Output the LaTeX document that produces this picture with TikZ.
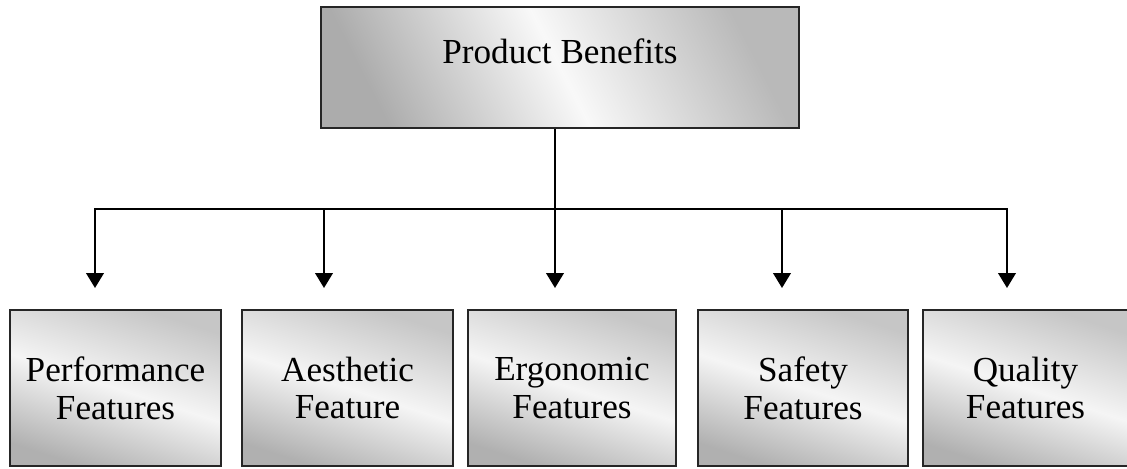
\documentclass[tikz,border=0pt]{standalone}
\usepackage{fontspec}
\setmainfont{Liberation Serif}
\usetikzlibrary{arrows.meta}

\tikzset{
  benefitbox/.style={draw=black!85, line width=1.4pt, rectangle, inner sep=0pt,
    left color=gray!65, right color=gray!55, middle color=white!95!gray, shading angle=117},
  featurebox/.style={draw=black!85, line width=1.4pt, rectangle, inner sep=0pt, align=center,
    top color=gray!45, bottom color=gray!62, middle color=white!92!gray, shading angle=-18,
    minimum height=3.12cm},
}

\begin{document}
\begin{tikzpicture}[x=0.02cm, y=-0.02cm, >={Triangle[width=10pt,length=8.5pt]}, line width=1.1pt,
    font=\fontsize{20}{21.5}\selectfont]
    \useasboundingbox (0,0) rectangle (1127,468);
    \node[benefitbox, minimum width=9.56cm, minimum height=2.42cm, text height=14pt, text depth=19pt]
      (benefits) at (560,67.5) {Product Benefits};
    \node[featurebox, minimum width=4.22cm] (performance) at (115.5,388) {Performance\\Features};
    \node[featurebox, minimum width=4.22cm] (aesthetic) at (347.5,388) {Aesthetic\\Feature};
    \node[featurebox, minimum width=4.16cm] (ergonomic) at (572,388) {Ergonomic\\Features};
    \node[featurebox, minimum width=4.2cm] (safety) at (803,388) {Safety\\Features};
    \node[featurebox, minimum width=4.1cm] (quality) at (1025.5,388) {Quality\\Features};
    \coordinate (split) at (555,209);
    \coordinate (drop1) at (95,288);
    \coordinate (drop2) at (324,288);
    \coordinate (drop3) at (555,288);
    \coordinate (drop4) at (782,288);
    \coordinate (drop5) at (1007,288);
    \draw (benefits.south -| split) -- (split);
    \foreach \i in {1,...,5}
      \draw[->] (split) -| (drop\i);
\end{tikzpicture}
\end{document}
